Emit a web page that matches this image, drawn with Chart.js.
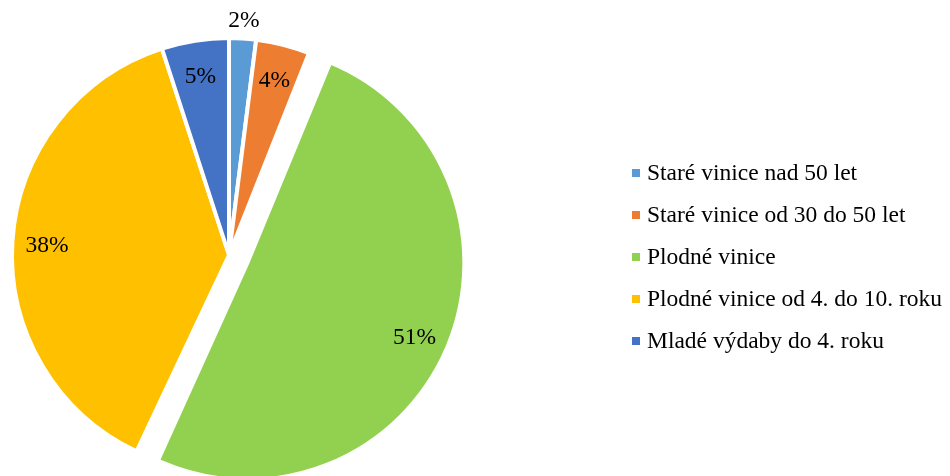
<!DOCTYPE html>
<html>
<head>
<meta charset="utf-8">
<script src="https://cdn.jsdelivr.net/npm/chart.js@4"></script>
<style>
  html, body { margin: 0; padding: 0; background: #fff; }
  #wrap { width: 950px; height: 476px; position: relative; }
</style>
</head>
<body>
<div id="wrap"><canvas id="vinice"></canvas></div>
<script>
(function(){

    const categories = ['Staré vinice nad 50 let', 'Staré vinice od 30 do 50 let', 'Plodné vinice', 'Plodné vinice od 4. do 10. roku', 'Mladé výdaby do 4. roku'];
    const shares = [2, 4, 51, 38, 5];
    const colors = ['#5B9BD5', '#ED7D31', '#92D050', '#FFC000', '#4472C4'];
    const exploded = [0, 0, 80, 0, 0];

    const FONT = '"Liberation Serif", "Times New Roman", serif';
    const PIE_R = 217;

    // chart.js grows a big exploded slice by offset/4, shrink it back so all slices keep one radius
    const keepRadius = {
        id: 'keepRadius',
        afterDatasetUpdate(chart, args) {
            const meta = chart.getDatasetMeta(args.index);
            meta.data.forEach((arc, i) => {
                const circ = arc.endAngle - arc.startAngle;
                const fix = 1 - Math.sin(Math.min(Math.PI, circ));
                arc.outerRadius = PIE_R - (exploded[i] / 4) * fix;
            });
        }
    };

    // percent labels inside the slices (tiny ones go outside)
    const sliceLabels = {
        id: 'sliceLabels',
        afterDatasetsDraw(chart) {
            const ctx = chart.ctx;
            const meta = chart.getDatasetMeta(0);
            ctx.save();
            ctx.font = '23.5px ' + FONT;
            ctx.fillStyle = '#000';
            ctx.textAlign = 'center';
            ctx.textBaseline = 'middle';
            meta.data.forEach((arc, i) => {
                const v = chart.data.datasets[0].data[i];
                const mid = (arc.startAngle + arc.endAngle) / 2;
                const shift = (exploded[i] || 0) / 4;
                const cx = arc.x + Math.cos(mid) * shift;
                const cy = arc.y + Math.sin(mid) * shift;
                const f = v < 3 ? 1.09 : 0.84;
                const r = PIE_R * f;
                ctx.fillText(v + '%', cx + Math.cos(mid) * r, cy + Math.sin(mid) * r + 2);
            });
            ctx.restore();
        }
    };

    // legend drawn by hand so the pie can sit on the left like the original
    const sideLegend = {
        id: 'sideLegend',
        afterDraw(chart) {
            const ctx = chart.ctx;
            ctx.save();
            ctx.font = '23.5px ' + FONT;
            ctx.textBaseline = 'middle';
            ctx.textAlign = 'left';
            chart.data.labels.forEach((lab, i) => {
                const y = 173 + i * 42;
                ctx.fillStyle = colors[i];
                ctx.fillRect(632, y - 4, 8, 8);
                ctx.fillStyle = '#000';
                ctx.fillText(lab, 647, y + 1);
            });
            ctx.restore();
        }
    };

    new Chart(document.getElementById('vinice'), {
        type: 'pie',
        data: {
            labels: categories,
            datasets: [{
                data: shares,
                backgroundColor: colors,
                borderColor: '#fff',
                borderWidth: 4,
                offset: exploded,
                hoverOffset: 0
            }]
        },
        options: {
            responsive: true,
            maintainAspectRatio: false,
            animation: false,
            events: [],
            radius: PIE_R,
            layout: { padding: { left: 0, right: 492, top: 34, bottom: 0 } },
            plugins: {
                legend: { display: false },
                tooltip: { enabled: false }
            }
        },
        plugins: [keepRadius, sliceLabels, sideLegend]
    });
})();
</script>
</body>
</html>
